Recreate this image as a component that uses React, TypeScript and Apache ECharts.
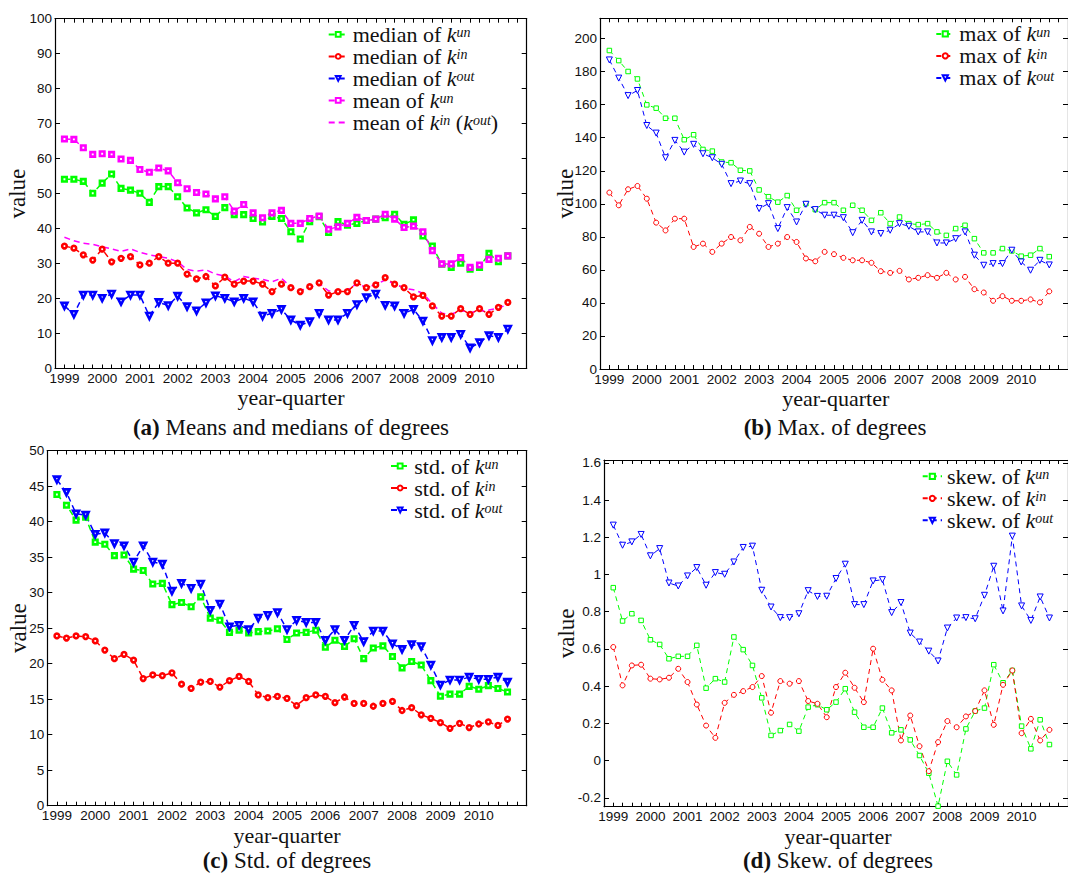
import React, { useEffect, useRef } from "react";
import * as echarts from "echarts";

// ---------- categories ----------
const years = [1999, 2000, 2001, 2002, 2003, 2004, 2005, 2006, 2007, 2008, 2009, 2010];
const quarterNames = ["Q1", "Q2", "Q3", "Q4"];
const quarters = years.flatMap((y) => quarterNames.map((q) => `${y} ${q}`));

// ---------- (a) means and medians ----------
const medianKun = [54.1, 54.1, 53.5, 50.1, 53.0, 55.6, 51.5, 51.0, 50.1, 47.5, 52.0, 52.0, 49.1, 45.9, 44.5, 45.4, 43.5, 46.0, 44.0, 44.0, 42.9, 41.9, 43.5, 42.9, 39.1, 37.0, 42.0, 43.4, 38.9, 42.0, 41.0, 41.5, 42.3, 42.7, 43.1, 44.1, 41.2, 42.5, 37.9, 35.0, 29.8, 28.9, 30.1, 28.4, 28.9, 32.9, 30.5, 32.2];
const medianKin = [35.0, 34.4, 32.5, 31.0, 34.1, 30.5, 31.5, 32.0, 29.6, 30.1, 32.0, 30.1, 30.1, 27.0, 25.6, 26.3, 23.6, 26.1, 24.1, 25.0, 25.0, 24.1, 22.0, 24.1, 23.1, 22.0, 23.4, 24.5, 21.0, 22.0, 22.0, 24.5, 23.1, 23.9, 26.0, 24.1, 23.1, 20.5, 20.9, 17.9, 15.0, 15.0, 17.1, 15.5, 17.1, 15.5, 17.5, 18.9];
const medianKout = [17.9, 15.5, 21.0, 21.0, 20.1, 21.3, 19.1, 21.0, 21.0, 15.0, 18.9, 18.0, 20.7, 17.7, 16.5, 18.8, 20.8, 20.1, 19.1, 20.1, 19.1, 15.0, 15.8, 16.9, 13.9, 12.4, 13.4, 15.8, 13.9, 13.9, 15.8, 18.3, 20.3, 21.3, 18.1, 17.9, 15.8, 16.9, 13.6, 8.0, 8.9, 8.9, 9.8, 5.9, 7.4, 9.4, 8.9, 11.3];
const meanKun = [65.6, 65.5, 63.1, 61.2, 61.4, 61.2, 59.9, 59.5, 56.9, 56.1, 57.3, 56.5, 53.1, 51.4, 50.3, 49.9, 48.5, 49.1, 45.0, 46.9, 44.5, 43.1, 44.5, 45.2, 41.5, 41.5, 42.9, 43.6, 39.8, 40.5, 41.5, 43.2, 42.3, 42.7, 44.1, 42.7, 40.3, 40.7, 39.1, 33.7, 29.9, 29.9, 31.7, 28.9, 29.6, 31.2, 31.5, 32.2];
const meanKin = [37.5, 36.5, 35.8, 35.5, 34.8, 34.2, 33.5, 34.2, 33.2, 32.5, 32.0, 31.5, 30.5, 28.3, 27.8, 28.2, 27.0, 26.4, 24.8, 26.3, 25.8, 25.5, 24.8, 25.8, 23.3, 22.3, 23.1, 24.3, 22.2, 22.0, 22.5, 24.2, 23.2, 24.0, 25.3, 24.2, 23.0, 22.5, 21.5, 18.5, 15.8, 15.5, 16.6, 16.0, 16.4, 16.7, 17.3, 18.3];

// ---------- (b) max ----------
const maxKun = [192.8, 186.7, 180.1, 175.6, 159.9, 157.9, 151.8, 151.8, 138.8, 141.8, 132.9, 131.9, 125.3, 124.9, 120.3, 119.9, 108.4, 104.3, 101.0, 105.0, 96.1, 100.1, 96.5, 100.7, 100.7, 96.1, 99.1, 96.1, 90.0, 94.6, 88.0, 92.0, 88.0, 87.4, 88.0, 83.0, 80.9, 85.0, 87.0, 78.9, 70.3, 70.3, 72.9, 71.5, 68.3, 68.9, 72.9, 68.0];
const maxKin = [106.8, 99.1, 108.8, 110.8, 103.1, 88.6, 83.9, 91.0, 91.0, 73.9, 75.9, 70.9, 75.9, 79.9, 77.9, 86.0, 81.9, 73.9, 75.9, 79.9, 76.9, 66.9, 65.2, 70.9, 69.5, 67.3, 65.8, 65.8, 64.3, 59.2, 58.2, 59.4, 54.2, 55.2, 56.8, 55.2, 58.2, 54.2, 55.8, 48.3, 46.3, 41.3, 44.1, 41.3, 41.3, 42.1, 40.3, 47.0];
const maxKout = [187.1, 176.1, 165.5, 168.6, 147.4, 142.8, 127.9, 138.4, 131.3, 136.0, 130.3, 127.9, 123.9, 112.2, 113.8, 112.2, 97.1, 100.1, 85.0, 97.7, 89.0, 99.7, 96.5, 93.1, 93.1, 91.6, 82.5, 90.0, 83.0, 82.0, 84.0, 88.0, 86.4, 83.0, 83.0, 76.3, 76.3, 78.9, 83.0, 68.9, 62.8, 63.8, 63.8, 71.9, 64.8, 59.8, 65.8, 63.0];

// ---------- (c) std ----------
const stdKun = [43.8, 42.3, 40.2, 40.6, 37.1, 36.8, 35.2, 35.3, 33.3, 33.1, 31.2, 31.3, 28.3, 28.6, 28.0, 29.4, 26.4, 26.1, 24.4, 24.7, 24.3, 24.5, 24.6, 24.9, 23.4, 24.3, 24.4, 24.7, 22.3, 23.3, 22.4, 23.5, 20.7, 22.2, 22.5, 21.0, 19.4, 20.3, 19.8, 17.6, 15.4, 15.7, 15.7, 16.8, 16.4, 16.9, 16.5, 16.0];
const stdKin = [23.9, 23.6, 23.9, 23.8, 23.2, 21.9, 20.7, 21.3, 20.5, 17.9, 18.4, 18.3, 18.7, 17.1, 16.5, 17.4, 17.5, 16.7, 17.6, 18.2, 17.5, 15.6, 15.2, 15.4, 15.1, 14.1, 15.2, 15.6, 15.4, 14.5, 15.3, 14.4, 14.4, 14.0, 14.4, 14.7, 13.4, 13.8, 12.8, 12.3, 11.7, 10.9, 11.6, 11.0, 11.5, 11.8, 11.3, 12.2];
const stdKout = [45.9, 44.1, 41.1, 40.9, 38.2, 38.4, 36.9, 36.6, 34.3, 36.6, 34.3, 34.0, 30.2, 31.3, 30.6, 31.2, 27.5, 28.4, 25.2, 25.4, 24.8, 26.4, 26.8, 27.2, 24.8, 26.1, 25.8, 25.8, 23.3, 24.8, 23.3, 25.4, 23.1, 24.6, 24.6, 22.8, 22.0, 22.7, 22.4, 19.8, 17.0, 17.7, 17.7, 18.1, 17.8, 17.8, 18.1, 17.4];

// ---------- (d) skewness ----------
const skewKun = [0.929, 0.75, 0.789, 0.753, 0.649, 0.624, 0.547, 0.56, 0.56, 0.619, 0.389, 0.44, 0.422, 0.664, 0.596, 0.511, 0.337, 0.135, 0.161, 0.194, 0.158, 0.287, 0.3, 0.273, 0.314, 0.386, 0.26, 0.179, 0.179, 0.282, 0.149, 0.165, 0.111, 0.027, -0.068, -0.245, -0.004, -0.077, 0.17, 0.266, 0.282, 0.515, 0.418, 0.484, 0.185, 0.063, 0.219, 0.086];
const skewKin = [0.61, 0.404, 0.511, 0.515, 0.44, 0.436, 0.445, 0.493, 0.422, 0.301, 0.188, 0.122, 0.31, 0.353, 0.373, 0.395, 0.454, 0.257, 0.427, 0.413, 0.427, 0.32, 0.305, 0.233, 0.395, 0.472, 0.391, 0.314, 0.601, 0.434, 0.377, 0.108, 0.242, 0.077, -0.057, 0.099, 0.212, 0.179, 0.237, 0.266, 0.377, 0.192, 0.407, 0.484, 0.147, 0.224, 0.108, 0.165];
const skewKout = [1.265, 1.157, 1.175, 1.215, 1.1, 1.139, 0.954, 0.938, 0.992, 1.037, 0.942, 1.01, 1.001, 1.067, 1.145, 1.152, 0.915, 0.825, 0.768, 0.768, 0.789, 0.913, 0.882, 0.883, 0.978, 1.055, 0.838, 0.838, 0.965, 0.972, 0.795, 0.849, 0.685, 0.637, 0.588, 0.535, 0.712, 0.766, 0.768, 0.762, 0.888, 1.044, 0.804, 1.206, 0.831, 0.753, 0.879, 0.766];

// ---------- tick labels ----------
const yTicksA = [0, 10, 20, 30, 40, 50, 60, 70, 80, 90, 100];
const yTicksB = [0, 20, 40, 60, 80, 100, 120, 140, 160, 180, 200];
const yTicksC = [0, 5, 10, 15, 20, 25, 30, 35, 40, 45, 50];
const yTicksD = [-0.2, 0, 0.2, 0.4, 0.6, 0.8, 1, 1.2, 1.4, 1.6];

const GREEN = "#00ff00";
const RED = "#ff0000";
const BLUE = "#0000ff";
const MAGENTA = "#ff00ff";
const SERIF = '"Liberation Serif", "Times New Roman", serif';
const SANS = '"Liberation Sans", Arial, Helvetica, sans-serif';

type Panel = {
  left: number; top: number; width: number; height: number;
  yMin: number; yMax: number; yTicks: number[];
};

const panels: Panel[] = [
  { left: 55, top: 18.7, width: 471.7, height: 349.8, yMin: 0, yMax: 100, yTicks: yTicksA },
  { left: 600, top: 18.3, width: 471.5, height: 350.7, yMin: 0, yMax: 212.3, yTicks: yTicksB },
  { left: 47.3, top: 450.5, width: 479.4, height: 355.2, yMin: 0, yMax: 50, yTicks: yTicksC },
  { left: 604, top: 460, width: 468, height: 346.7, yMin: -0.248, yMax: 1.615, yTicks: yTicksD },
];

function buildOption() {
  const xTickPos: number[] = [];
  for (let i = -1; i <= quarters.length + 1; i++) xTickPos.push(i);
  const yearPos = years.map((_, k) => k * quarterNames.length);
  const axisColor = "#000";

  const grid = panels.map((p) => ({ left: p.left, top: p.top, width: p.width, height: p.height, containLabel: false }));
  const xAxis: any[] = [];
  const yAxis: any[] = [];
  panels.forEach((p, g) => {
    const baseX = {
      gridIndex: g, type: "value", min: -1, max: quarters.length + 1,
      axisLine: { show: true, onZero: false, lineStyle: { color: axisColor, width: 1.2 } },
      splitLine: { show: false },
    };
    xAxis.push({
      ...baseX, position: "bottom",
      axisTick: { show: true, inside: true, length: 4, customValues: xTickPos, lineStyle: { color: axisColor, width: 1 } },
      axisLabel: {
        show: true, customValues: yearPos, margin: 3,
        formatter: (v: number) => String(years[Math.round(v / quarterNames.length)]),
        fontFamily: SANS, fontSize: 13.5, lineHeight: 14, color: "#111",
      },
    });
    xAxis.push({
      ...baseX, position: "top",
      axisTick: { show: true, inside: true, length: 4, customValues: xTickPos, lineStyle: { color: axisColor, width: 1 } },
      axisLabel: { show: false },
    });
    const baseY = {
      gridIndex: g, type: "value", min: p.yMin, max: p.yMax,
      axisLine: { show: true, onZero: false, lineStyle: { color: axisColor, width: 1.2 } },
      splitLine: { show: false },
    };
    yAxis.push({
      ...baseY, position: "left",
      axisTick: { show: true, inside: true, length: 5, customValues: p.yTicks, lineStyle: { color: axisColor, width: 1 } },
      axisLabel: {
        show: true, customValues: p.yTicks, margin: 3,
        formatter: (v: number) => String(Math.round(v * 10) / 10),
        fontFamily: SANS, fontSize: 13.5, color: "#111",
      },
    });
    yAxis.push({
      ...baseY, position: "right",
      axisTick: { show: true, inside: true, length: 5, customValues: p.yTicks, lineStyle: { color: axisColor, width: 1 } },
      axisLabel: { show: false },
    });
  });

  const symSize = (symbol: string, thick: boolean) => {
    if (symbol === "triangle") return 6;
    if (symbol === "circle") return thick ? 4.6 : 5;
    return 4.5;
  };

  const mk = (name: string, values: number[], color: string, symbol: string, g: number, thick: boolean) => ({
    type: "line",
    name,
    xAxisIndex: g * 2,
    yAxisIndex: g * 2,
    data: values.map((v, i) => [i, v]),
    symbol,
    symbolSize: symSize(symbol, thick),
    symbolRotate: symbol === "triangle" ? 180 : 0,
    showSymbol: symbol !== "none",
    silent: true,
    lineStyle: { color, width: thick ? 1.5 : 1, type: thick ? [6, 4] : [5, 4] },
    itemStyle: { color: "#ffffff", borderColor: color, borderWidth: thick ? 2.6 : 1 },
    emphasis: { disabled: true },
    z: 3,
  });

  const series = [
    mk("median of k^un", medianKun, GREEN, "rect", 0, true),
    mk("median of k^in", medianKin, RED, "circle", 0, true),
    mk("median of k^out", medianKout, BLUE, "triangle", 0, true),
    mk("mean of k^un", meanKun, MAGENTA, "rect", 0, true),
    mk("mean of k^in (k^out)", meanKin, MAGENTA, "none", 0, true),
    mk("max of k^un", maxKun, GREEN, "rect", 1, false),
    mk("max of k^in", maxKin, RED, "circle", 1, false),
    mk("max of k^out", maxKout, BLUE, "triangle", 1, false),
    mk("std. of k^un", stdKun, GREEN, "rect", 2, true),
    mk("std. of k^in", stdKin, RED, "circle", 2, true),
    mk("std. of k^out", stdKout, BLUE, "triangle", 2, true),
    mk("skew. of k^un", skewKun, GREEN, "rect", 3, false),
    mk("skew. of k^in", skewKin, RED, "circle", 3, false),
    mk("skew. of k^out", skewKout, BLUE, "triangle", 3, false),
  ];

  const toRich = (name: string) =>
    name
      .split(/(k\^\w+)/)
      .filter((s) => s.length > 0)
      .map((s) => {
        const m = s.match(/^k\^(\w+)$/);
        return m ? `{k|k}{s|${m[1]}}` : `{t|${s}}`;
      })
      .join("");

  const richFor = (lh: number) => ({
    t: { fontFamily: SERIF, fontSize: 22, lineHeight: lh, color: "#111" },
    k: { fontFamily: SERIF, fontSize: 22, fontStyle: "italic", lineHeight: lh, color: "#111" },
    s: { fontFamily: SERIF, fontSize: 14, fontStyle: "italic", lineHeight: 7, verticalAlign: "top", color: "#111" },
  });

  const hiddenSymbol = { color: "rgba(0,0,0,0)", borderColor: "rgba(0,0,0,0)", borderWidth: 0, opacity: 0 };

  const mkLegend = (names: string[], left: number, top: number, itemWidth: number, itemHeight: number, lh: number) => ({
    data: names.map((n) => (n.indexOf("mean of k^in") === 0 ? { name: n, itemStyle: hiddenSymbol } : n)),
    orient: "vertical",
    left,
    top,
    itemWidth,
    itemHeight,
    itemGap: 0,
    padding: 0,
    selectedMode: false,
    formatter: (n: string) => toRich(n),
    textStyle: { fontFamily: SERIF, fontSize: 22, color: "#111", lineHeight: lh, rich: richFor(lh) },
  });

  const legend = [
    mkLegend(["median of k^un", "median of k^in", "median of k^out", "mean of k^un", "mean of k^in (k^out)"], 327.7, 32.3 - 17.75 / 2, 19, 6, 17.75),
    mkLegend(["max of k^un", "max of k^in", "max of k^out"], 935.3, 31.7 - 17.5 / 2, 18, 6.5, 17.5),
    mkLegend(["std. of k^un", "std. of k^in", "std. of k^out"], 390, 464 - 9, 18.3, 6, 18),
    mkLegend(["skew. of k^un", "skew. of k^in", "skew. of k^out"], 921.7, 474.3 - 17.9 / 2, 19.3, 6.5, 17.9),
  ];

  const txt = (text: string, x: number, y: number, size: number, rotate = false, rich?: any) => ({
    type: "text",
    x,
    y,
    rotation: rotate ? Math.PI / 2 : 0,
    silent: true,
    style: {
      text,
      fontFamily: SERIF,
      fontSize: size,
      fill: "#111",
      align: "center",
      verticalAlign: "middle",
      textAlign: "center",
      textVerticalAlign: "middle",
      rich,
    },
  });
  const capRich = { b: { fontFamily: SERIF, fontSize: 23, fontWeight: "bold", fill: "#111" } };

  const graphic = [
    txt("value", 17, 193.6, 23, true),
    txt("value", 565, 193.6, 23, true),
    txt("value", 18, 628.1, 23, true),
    txt("value", 566, 633.4, 23, true),
    txt("year-quarter", 291, 397, 22),
    txt("year-quarter", 835.7, 398, 22),
    txt("year-quarter", 287, 835, 22),
    txt("year-quarter", 838, 836, 22),
    txt("{b|(a)} Means and medians of degrees", 291, 427, 23, false, capRich),
    txt("{b|(b)} Max. of degrees", 835, 427, 23, false, capRich),
    txt("{b|(c)} Std. of degrees", 287, 860, 23, false, capRich),
    txt("{b|(d)} Skew. of degrees", 838, 860, 23, false, capRich),
  ];

  return {
    animation: false,
    backgroundColor: "#ffffff",
    grid,
    xAxis,
    yAxis,
    legend,
    series,
    graphic,
    tooltip: { show: false },
  };
}

export default function App() {
  const ref = useRef<HTMLDivElement>(null);
  useEffect(() => {
    document.body.style.margin = "0";
    document.body.style.overflow = "hidden";
    if (!ref.current) return;
    const chart = echarts.init(ref.current, undefined, { renderer: "svg" });
    chart.setOption(buildOption() as any);
    return () => chart.dispose();
  }, []);
  return (
    <div
      ref={ref}
      style={{ position: "absolute", left: 0, top: 0, width: 1068, height: 877, background: "#fff" }}
    />
  );
}
